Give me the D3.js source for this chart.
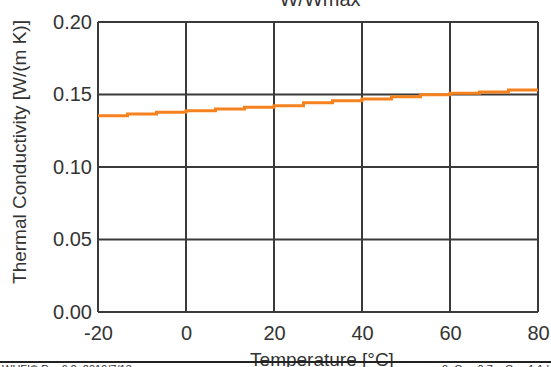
<!DOCTYPE html>
<html><head><meta charset="utf-8">
<script src="https://cdn.jsdelivr.net/npm/d3@7"></script>
<style>body{margin:0;background:#fff;overflow:hidden}svg{display:block}text{font-family:"Liberation Sans",Arial,sans-serif;fill:#333}</style>
</head><body>
<svg id="c" width="551" height="367"></svg>
<script>
const temperatures = [-20, -13.3, -6.7, 0, 6.7, 13.3, 20, 26.7, 33.3, 40, 46.7, 53.3, 60, 66.7, 73.3, 80];
const conductivity = [0.1354, 0.1366, 0.1377, 0.1388, 0.1400, 0.1412, 0.1423, 0.1443, 0.1457, 0.1469, 0.1485, 0.1499, 0.1508, 0.1517, 0.1531, 0.1531];
const xTicks = [-20, 0, 20, 40, 60, 80];
const yTicks = [0, 0.05, 0.10, 0.15, 0.20];
const title = "W/Wmax";
const xTitle = "Temperature [°C]";
const yTitle = "Thermal Conductivity [W/(m K)]";

const svg = d3.select("#c");
const L = 98, R = 538, T = 22, B = 312;
const x = d3.scaleLinear().domain([-20, 80]).range([L, R]);
const y = d3.scaleLinear().domain([0, 0.2]).range([B, T]);
const grid = "#3a3a3a";

// grid
svg.append("g").selectAll("line").data(xTicks).join("line")
  .attr("x1", d => x(d)).attr("x2", d => x(d)).attr("y1", T).attr("y2", B)
  .attr("stroke", grid).attr("stroke-width", 2);
svg.append("g").selectAll("line").data(yTicks).join("line")
  .attr("x1", L).attr("x2", R).attr("y1", d => y(d)).attr("y2", d => y(d))
  .attr("stroke", grid).attr("stroke-width", 2);

// data line
const pts = temperatures.map((t, i) => [t, conductivity[i]]);
svg.append("path").datum(pts)
  .attr("fill", "none").attr("stroke", "#f5821f").attr("stroke-width", 3)
  .attr("d", d3.line().x(d => x(d[0])).y(d => y(d[1])).curve(d3.curveStepAfter));

// axes labels
const xAxis = d3.axisBottom(x).tickValues(xTicks).tickSize(0).tickPadding(0).tickFormat(d => String(d));
const gx = svg.append("g").attr("transform", `translate(0,${B})`).call(xAxis);
gx.select(".domain").remove();
gx.selectAll("text").attr("y", 28).attr("dy", 0).style("font-size", "20px").attr("fill", "#333");

const yAxis = d3.axisLeft(y).tickValues(yTicks).tickSize(0).tickPadding(0).tickFormat(d => d.toFixed(2));
const gy = svg.append("g").attr("transform", `translate(${L},0)`).call(yAxis);
gy.select(".domain").remove();
gy.selectAll("text").attr("x", -6).attr("dy", "0.32em").style("font-size", "20px").attr("fill", "#333");

// titles
svg.append("text").attr("x", 320).attr("y", 6).attr("text-anchor", "middle").style("font-size", "20px").text(title);
svg.append("text").attr("x", 322).attr("y", 366).attr("text-anchor", "middle").style("font-size", "19px").text(xTitle);
svg.append("text").attr("transform", "translate(26,152) rotate(-90)").attr("text-anchor", "middle").style("font-size", "19px").text(yTitle);

// footer
svg.append("line").attr("x1", 0).attr("x2", 551).attr("y1", 362).attr("y2", 362).attr("stroke", "#222").attr("stroke-width", 2);
svg.append("text").attr("x", 2).attr("y", 373).style("font-size", "11px").text("WUFI® Pro 6.2; 2019/7/13 ...");
svg.append("text").attr("x", 549).attr("y", 373).attr("text-anchor", "end").style("font-size", "11px").text("... 0; Cm, 0.7e, Cm, 1.1 l");
</script>
</body></html>
